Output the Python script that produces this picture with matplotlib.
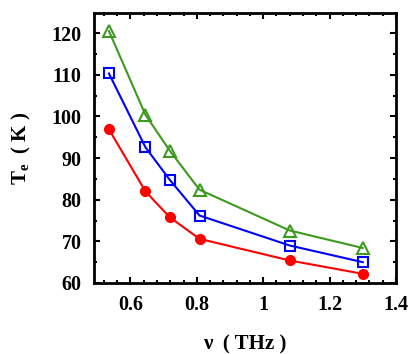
import matplotlib.pyplot as plt
from matplotlib.ticker import MultipleLocator

# frequency (THz) and electron temperature (K)
freq = [0.535, 0.645, 0.718, 0.808, 1.08, 1.30]
te_red = [96.9, 82.0, 75.8, 70.6, 65.4, 62.2]
te_blue = [110.3, 92.6, 84.8, 76.2, 69.0, 65.0]
te_green = [120.5, 100.4, 91.8, 82.4, 72.6, 68.4]

plt.rcParams['font.family'] = ['Liberation Serif', 'DejaVu Serif']
plt.rcParams['font.weight'] = 'bold'
plt.rcParams['mathtext.fontset'] = 'custom'
plt.rcParams['mathtext.rm'] = 'Liberation Serif'
plt.rcParams['mathtext.bf'] = 'Liberation Serif:bold'

fig = plt.figure(figsize=(4.15, 3.54), dpi=100)
ax = fig.add_axes([0.2265, 0.2006, 0.7275, 0.7624])

ax.plot(freq, te_red, color='#ff0000', lw=1.5, marker='o', ms=7)
ax.plot(freq, te_blue, color='#0000ff', lw=1.5, marker='s', ms=7.5,
        mfc='none', mew=1.5)
ax.plot(freq, te_green, color='#3c9a1e', lw=1.5, marker='^', ms=8,
        mfc='none', mew=1.5)

ax.set_xlim(0.49, 1.4)
ax.set_ylim(60, 124.8)
ax.xaxis.set_minor_locator(MultipleLocator(0.04))
ax.yaxis.set_major_locator(MultipleLocator(10))
ax.yaxis.set_minor_locator(MultipleLocator(5))
ax.set_xticks([0.6, 0.8, 1.0, 1.2, 1.4])
ax.set_xticklabels(['0.6', '0.8', '1', '1.2', '1.4'])

ax.tick_params(which='both', direction='in', top=True, right=True,
               labelsize=14.5, width=1.5)
ax.tick_params(which='major', length=4)
ax.tick_params(axis='x', which='major', pad=9)
ax.tick_params(axis='y', which='major', pad=9)
ax.tick_params(which='minor', length=2)
for s in ax.spines.values():
    s.set_linewidth(2)

ax.set_xlabel('ν  ( THz )', fontsize=15, fontweight='bold', labelpad=14)
ax.set_ylabel(r'T$_{\mathbf{e}}$  ( K )', fontsize=15, fontweight='bold', labelpad=13)

fig.savefig('out.png', dpi=100)
